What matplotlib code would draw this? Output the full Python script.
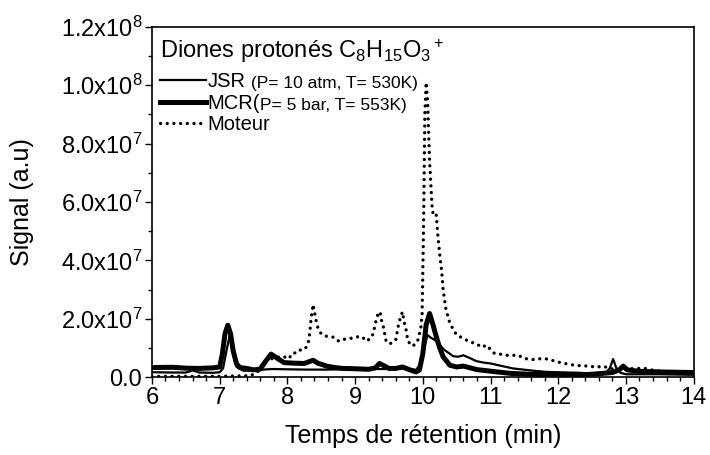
import numpy as np
import matplotlib
matplotlib.use("Agg")
import matplotlib.pyplot as plt
from matplotlib.ticker import MultipleLocator, FuncFormatter
from matplotlib.lines import Line2D

plt.rcParams['font.family'] = ['Liberation Sans', 'DejaVu Sans']
plt.rcParams['mathtext.fontset'] = 'custom'
plt.rcParams['mathtext.rm'] = 'Liberation Sans'
plt.rcParams['mathtext.it'] = 'Liberation Sans'
plt.rcParams['mathtext.default'] = 'regular'

# retention time (min) and signal (units of 1e6)
jsr_t = [6.0, 6.3, 6.5, 6.6, 6.7, 6.9, 7.0, 7.05, 7.1, 7.15, 7.2, 7.25, 7.35, 7.5,
         7.7, 7.8, 8.0, 8.3, 8.6, 8.9, 9.2, 9.5, 9.7, 9.9, 9.98, 10.03, 10.07,
         10.12, 10.18, 10.25, 10.32, 10.45, 10.52, 10.6, 10.7, 10.79, 10.9, 11.0,
         11.33, 11.6, 11.83, 12.32, 12.56, 12.7, 12.76, 12.81, 12.86, 12.92, 13.0,
         13.5, 14.0]
jsr_y = [1.7, 1.6, 1.6, 2.3, 1.6, 1.5, 1.7, 3.0, 9.0, 14.5, 9.0, 3.5, 2.2, 2.3,
         2.7, 2.8, 2.7, 2.6, 2.6, 2.8, 2.8, 2.8, 3.0, 2.5, 5.0, 11.0, 14.4,
         13.5, 12.7, 11.0, 9.3, 7.2, 7.0, 7.5, 6.5, 5.5, 5.0, 4.7,
         3.0, 2.3, 1.8, 1.5, 1.2, 1.5, 3.0, 6.2, 3.0, 1.5, 1.0,
         1.0, 0.8]

mcr_t = [6.0, 6.3, 6.5, 6.7, 6.9, 7.0, 7.04, 7.08, 7.12, 7.16, 7.2, 7.25, 7.3, 7.4,
         7.5, 7.6, 7.68, 7.76, 7.85, 7.95, 8.1, 8.25, 8.32, 8.38, 8.45, 8.58, 8.7,
         8.82, 9.0, 9.2, 9.3, 9.36, 9.42, 9.5, 9.6, 9.7, 9.8, 9.9, 9.95, 10.0,
         10.05, 10.1, 10.15, 10.2, 10.25, 10.3, 10.4, 10.5, 10.6, 10.7, 10.8, 11.1,
         11.3, 11.58, 12.0, 12.32, 12.6, 12.8, 12.9, 12.96, 13.02, 13.2, 13.5, 14.0]
mcr_y = [3.3, 3.4, 3.1, 3.0, 3.2, 3.5, 8.0, 15.0, 17.8, 15.0, 9.0, 4.5, 3.3, 3.0,
         2.5, 2.8, 5.5, 7.9, 6.5, 5.0, 4.8, 4.7, 5.3, 5.8, 4.8, 3.8, 3.3,
         3.0, 2.9, 2.7, 3.2, 4.7, 4.0, 3.0, 3.0, 3.5, 2.6, 1.8, 2.5, 8.0,
         18.0, 21.8, 18.0, 13.8, 10.0, 7.0, 4.1, 3.5, 3.8, 3.2, 2.6, 1.8,
         1.3, 1.0, 0.8, 0.7, 1.2, 1.6, 2.5, 3.8, 2.5, 2.0, 1.8, 1.6]

mot_t = [6.0, 6.5, 7.0, 7.45, 7.55, 7.62, 7.68, 7.8, 7.93, 8.02, 8.08, 8.15, 8.22,
         8.27, 8.31, 8.33, 8.35, 8.38, 8.42, 8.45, 8.5, 8.6, 8.69, 8.76, 8.84, 8.92,
         9.01, 9.1, 9.17, 9.25, 9.28, 9.31, 9.34, 9.37, 9.39, 9.42, 9.46, 9.52, 9.6,
         9.64, 9.67, 9.7, 9.72, 9.75, 9.78, 9.85, 9.92, 9.97, 9.99, 10.01, 10.03,
         10.05, 10.07, 10.1, 10.14, 10.17, 10.2, 10.22, 10.25, 10.28, 10.3, 10.34,
         10.4, 10.5, 10.6, 10.69, 10.79, 10.87, 10.94, 11.01, 11.06, 11.14, 11.24,
         11.33, 11.41, 11.5, 11.65, 11.75, 11.85, 11.95, 12.05, 12.14, 12.24, 12.34,
         12.46, 12.56, 12.66, 12.76, 12.86, 13.0, 13.15, 13.28, 13.4, 13.6, 13.79, 14.0]
mot_y = [0.3, 0.3, 0.3, 0.5, 1.5, 4.0, 5.8, 6.5, 7.2, 6.3, 8.3, 8.3, 10.0,
         10.0, 12.0, 15.0, 20.0, 24.9, 19.8, 17.0, 14.8, 13.8, 13.7, 12.3, 13.0, 13.2,
         13.8, 13.9, 12.3, 13.8, 16.3, 19.5, 21.8, 22.4, 19.5, 17.0, 12.1, 11.5, 12.7,
         17.8, 20.5, 22.4, 19.3, 16.7, 12.3, 10.6, 12.1, 16.7, 21.8, 50.0, 90.0,
         101.0, 95.0, 74.0, 57.0, 55.0, 55.5, 49.0, 42.0, 36.0, 30.0, 23.5,
         18.4, 14.4, 13.3, 12.1, 11.5, 10.2, 11.0, 9.2, 8.1, 7.9, 7.5,
         7.5, 7.5, 6.4, 6.0, 6.4, 6.2, 5.5, 4.9, 4.5, 4.1, 3.9,
         3.8, 3.4, 3.8, 3.0, 2.6, 2.8, 3.0, 3.0, 2.4, 1.8, 1.8, 1.8]

fig = plt.figure(figsize=(7.1, 4.55), dpi=100)
ax = fig.add_axes([0.214, 0.171, 0.763, 0.770])

ax.plot(jsr_t, np.array(jsr_y) * 1e6, color='black', lw=1.6, solid_joinstyle='round')
ax.plot(mcr_t, np.array(mcr_y) * 1e6, color='black', lw=3.6, solid_joinstyle='round',
        solid_capstyle='round')
ax.plot(mot_t, np.array(mot_y) * 1e6, color='black', lw=2.4,
        linestyle=(0, (0.01, 2.0)), dash_capstyle='round')

ax.set_xlim(6, 14)
ax.set_ylim(0, 1.2e8)
ax.xaxis.set_major_locator(MultipleLocator(1))
ax.xaxis.set_minor_locator(MultipleLocator(0.2))
ax.yaxis.set_major_locator(MultipleLocator(2e7))
ax.yaxis.set_minor_locator(MultipleLocator(1e7))


def fmt(v, pos):
    if v <= 0:
        return '0.0'
    e = int(np.floor(np.log10(v)))
    return '%.1fx10$^{%d}$' % (v / 10 ** e, e)


ax.yaxis.set_major_formatter(FuncFormatter(fmt))
ax.tick_params(which='both', direction='out', top=False, right=False,
               labelsize=17, width=1)
ax.tick_params(which='major', length=5, pad=2)
ax.tick_params(which='minor', length=3)
for s in ax.spines.values():
    s.set_linewidth(1.2)

ax.set_xlabel('Temps de rétention (min)', fontsize=18)
ax.set_ylabel('Signal (a.u)', fontsize=18)
ax.xaxis.set_label_coords(0.5, -0.135)
ax.yaxis.set_label_coords(-0.217, 0.5)

handles = [Line2D([], [], color='black', lw=1.6),
           Line2D([], [], color='black', lw=3.6),
           Line2D([], [], color='black', lw=2.4, linestyle=(0, (0.01, 2.0)),
                  dash_capstyle='round')]
leg = ax.legend(handles, ['JSR', 'MCR(', 'Moteur'], loc='upper left',
                bbox_to_anchor=(-0.012, 1.012), frameon=False, fontsize=14.5,
                handlelength=2.3, handletextpad=0.1, labelspacing=0.12,
                borderaxespad=0.3,
                title='Diones protonés C$_8$H$_{15}$O$_3$$^+$',
                title_fontsize=17)
leg._legend_box.align = 'left'
leg._legend_box.sep = 5.5
fig.canvas.draw()
extras = [' (P= 10 atm, T= 530K)', 'P= 5 bar, T= 553K)', '']
for txt, extra in zip(leg.get_texts(), extras):
    if extra:
        ax.annotate(extra, xy=(1, 0), xycoords=txt, fontsize=12.5,
                    va='bottom', ha='left')

fig.savefig('out.png', dpi=100)
